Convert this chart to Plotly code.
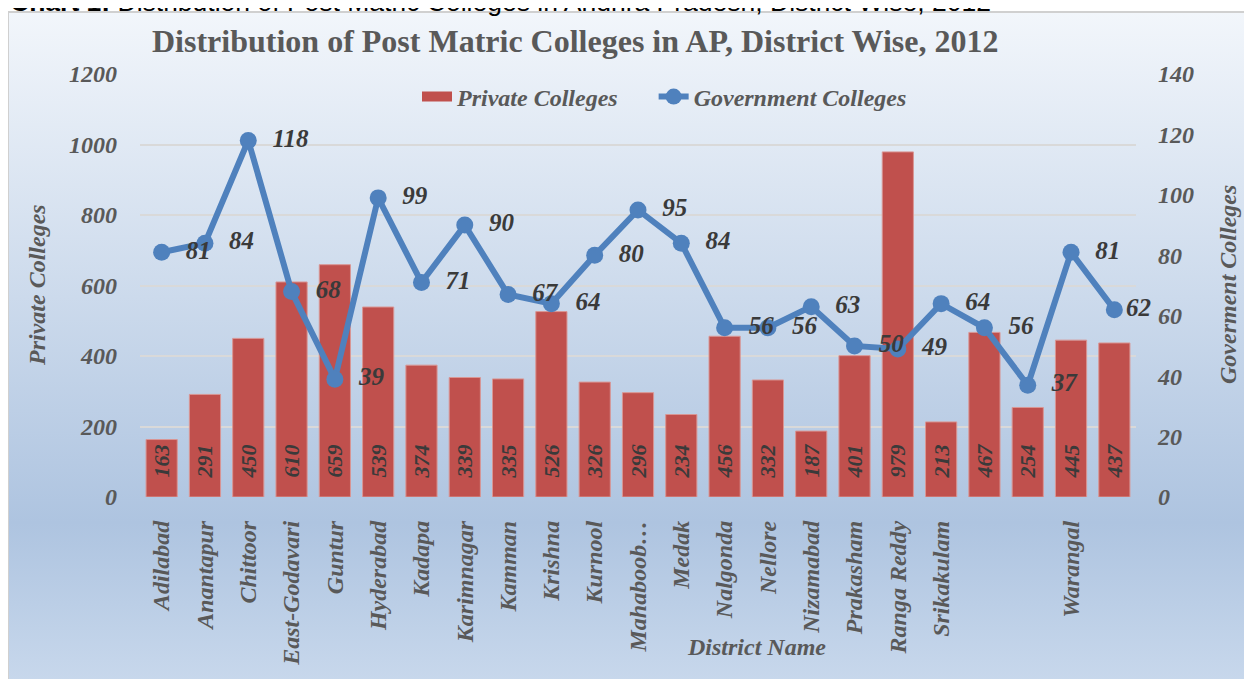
import base64
import plotly.graph_objects as go

districts = ["Adilabad", "Anantapur", "Chittoor", "East-Godavari", "Guntur", "Hyderabad",
             "Kadapa", "Karimnagar", "Kamman", "Krishna", "Kurnool", "Mahaboobnagar",
             "Medak", "Nalgonda", "Nellore", "Nizamabad", "Prakasham", "Ranga Reddy",
             "Srikakulam", "Visakhapatnam", "Vizianagaram", "Warangal", "West-Godavari"]
tick_labels = ["Adilabad", "Anantapur", "Chittoor", "East-Godavari", "Guntur", "Hyderabad",
               "Kadapa", "Karimnagar", "Kamman", "Krishna", "Kurnool", "Mahaboob…",
               "Medak", "Nalgonda", "Nellore", "Nizamabad", "Prakasham", "Ranga Reddy",
               "Srikakulam", "", "", "Warangal", ""]
private_colleges = [163, 291, 450, 610, 659, 539, 374, 339, 335, 526, 326, 296, 234,
                    456, 332, 187, 401, 979, 213, 467, 254, 445, 437]
government_colleges = [81, 84, 118, 68, 39, 99, 71, 90, 67, 64, 80, 95, 84, 56, 56,
                       63, 50, 49, 64, 56, 37, 81, 62]
left_ticks = [0, 200, 400, 600, 800, 1000, 1200]
right_ticks = [0, 20, 40, 60, 80, 100, 120, 140]

# page is offset by the 8px body margin; work in page pixel coordinates
OFF = 8
PW, PH = 1252, 679
W, H = PW - OFF, PH - OFF
L, R, T, B = 140, 1136, 74, 497
FRAME_TOP = 12

def px(x):
    return (x - L) / (R - L)

def py(y):
    return (B - y) / (B - T)

FONT = "Liberation Serif"
GRAY = "#595959"
DARK = "#3a3a3a"
NB = "\u00a0"
# label padding (in non-breaking spaces) before each line label; last one sits closer
label_pad = [2] * (len(districts) - 1) + [0]

svg = ('<svg xmlns="http://www.w3.org/2000/svg" width="100" height="100" preserveAspectRatio="none">'
       '<defs><linearGradient id="g" x1="0" y1="0" x2="0" y2="1">'
       '<stop offset="0" stop-color="#f2f6fb"/><stop offset="0.76" stop-color="#aec4e0"/>'
       '<stop offset="1" stop-color="#c8d8ec"/></linearGradient></defs>'
       '<rect width="100" height="100" fill="url(#g)"/></svg>')
svg_uri = "data:image/svg+xml;base64," + base64.b64encode(svg.encode()).decode()

fig = go.Figure()
fig.add_trace(go.Bar(
    x=districts, y=private_colleges, name="Private Colleges", showlegend=False,
    marker=dict(color="#C0504D", line=dict(color="#D99694", width=1)),
    width=0.72,
    text=[NB * 3 + str(v) for v in private_colleges], textposition="inside",
    insidetextanchor="start", textangle=-90,
    textfont=dict(family=FONT, size=22, color=DARK, style="italic", weight="bold"),
    cliponaxis=False,
))
# legend-only entry that mimics the wide red legend key of the bars
fig.add_trace(go.Scatter(
    x=[None], y=[None], name="Private Colleges" + NB * 5, mode="lines",
    line=dict(color="#C0504D", width=14),
))
fig.add_trace(go.Scatter(
    x=districts, y=government_colleges, name="Government Colleges", yaxis="y2",
    mode="lines+markers+text",
    line=dict(color="#4F81BD", width=6),
    marker=dict(color="#4F81BD", size=17),
    text=[NB * p + str(v) for p, v in zip(label_pad, government_colleges)],
    textposition="middle right",
    textfont=dict(family=FONT, size=25, color=DARK, style="italic", weight="bold"),
    cliponaxis=False,
))

tickfont = dict(family=FONT, size=24, color=GRAY, style="italic", weight="bold")
titlefont = dict(family=FONT, size=24, color=GRAY, style="italic", weight="bold")

fig.update_layout(
    width=W, height=H,
    margin=dict(l=L - OFF, r=PW - R, t=T - OFF, b=PH - B),
    paper_bgcolor="white", plot_bgcolor="rgba(0,0,0,0)",
    showlegend=True,
    legend=dict(orientation="h", x=px(417), y=py(97), xanchor="left", yanchor="middle",
                bgcolor="rgba(0,0,0,0)",
                font=dict(family=FONT, size=24, color=GRAY, style="italic", weight="bold")),
    xaxis=dict(tickmode="array", tickvals=districts, ticktext=tick_labels, tickangle=-90,
               range=[-0.5, len(districts) - 0.5],
               tickfont=dict(family=FONT, size=24, color=GRAY, style="italic", weight="bold"),
               showgrid=False, showline=False, zeroline=False, ticks="",
               ticklabelstandoff=18),
    yaxis=dict(range=[0, 1200], tickvals=left_ticks, tickfont=tickfont,
               showgrid=True, gridcolor="#d9d9d9", gridwidth=1.5, zeroline=False,
               ticks="", ticklabelstandoff=22),
    yaxis2=dict(range=[0, 140], tickvals=right_ticks, tickfont=tickfont, overlaying="y",
                side="right", showgrid=False, zeroline=False, ticks="",
                ticklabelstandoff=21),
    images=[dict(source=svg_uri, xref="paper", yref="paper", x=px(8), y=py(FRAME_TOP),
                 sizex=(PW - 8) / (R - L), sizey=(PH - FRAME_TOP + 5) / (B - T),
                 xanchor="left", yanchor="top", sizing="stretch", layer="below")],
    shapes=[dict(type="rect", xref="paper", yref="paper", x0=px(8), x1=px(1251),
                 y0=py(PH + 5), y1=py(FRAME_TOP), line=dict(color="#d0d0d0", width=2),
                 layer="below")],
    annotations=[
        dict(text="Distribution of Post Matric Colleges in AP, District Wise, 2012",
             xref="paper", yref="paper", x=px(575), y=py(41), xanchor="center",
             yanchor="middle", showarrow=False,
             font=dict(family=FONT, size=32, color=GRAY, weight="bold")),
        dict(text="<b>Chart 1:</b> Distribution of Post Matric Colleges in Andhra Pradesh, District Wise, 2012",
             xref="paper", yref="paper", x=px(8), y=py(2), xanchor="left",
             yanchor="middle", showarrow=False,
             font=dict(family="Liberation Sans", size=26.5, color="black")),
        dict(text="Private Colleges", xref="paper", yref="paper", x=px(37), y=py(285),
             xanchor="center", yanchor="middle", textangle=-90, showarrow=False,
             font=titlefont),
        dict(text="Goverment Colleges", xref="paper", yref="paper", x=px(1228), y=py(285),
             xanchor="center", yanchor="middle", textangle=-90, showarrow=False,
             font=titlefont),
        dict(text="District Name", xref="paper", yref="paper", x=px(756), y=py(647),
             xanchor="center", yanchor="middle", showarrow=False,
             font=titlefont),
    ],
)

fig.write_html("out.html")
